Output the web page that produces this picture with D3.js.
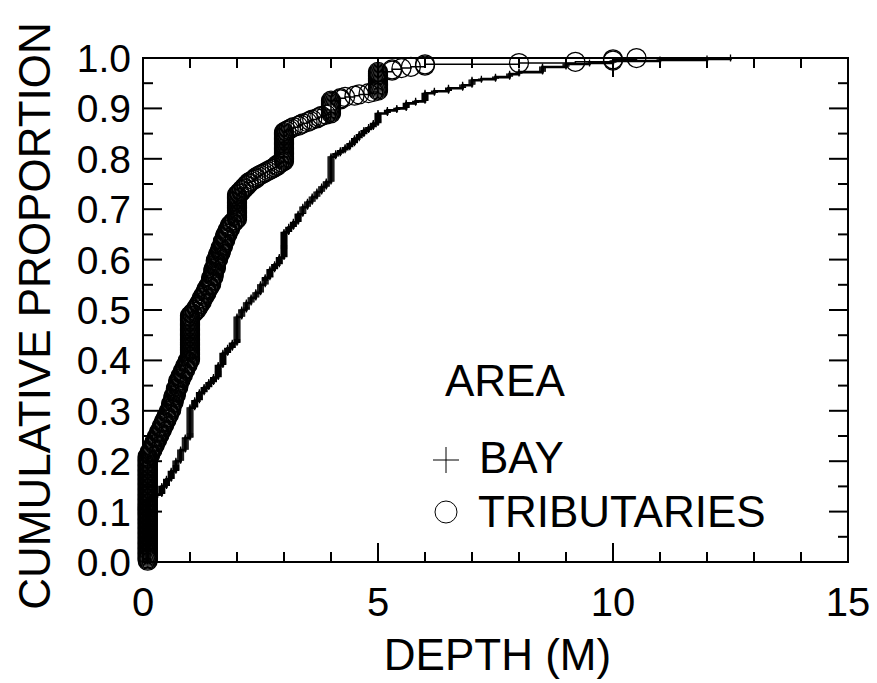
<!DOCTYPE html>
<html>
<head>
<meta charset="utf-8">
<script src="https://cdn.jsdelivr.net/npm/d3@7"></script>
<style>
  body { margin: 0; background: #fff; }
  svg { display: block; font-family: "Liberation Sans", Arial, sans-serif; }
</style>
</head>
<body>
<script>
// depth readings (m) and how many samples sit at each depth
var tribDepth = [0.1, 0.15, 0.2, 0.25, 0.3, 0.35, 0.4, 0.45, 0.5, 0.55,
                 0.6, 0.65, 0.7, 0.75, 0.8, 0.85, 0.9, 0.95, 1.0,
                 1.05, 1.1, 1.15, 1.2, 1.25, 1.3, 1.35, 1.4, 1.45, 1.5,
                 1.55, 1.6, 1.65, 1.7, 1.75, 1.8, 1.85, 1.9, 1.95, 2.0,
                 2.05, 2.1, 2.15, 2.2, 2.25, 2.3, 2.35, 2.4, 2.45, 2.5,
                 2.55, 2.6, 2.65, 2.7, 2.75, 2.8, 2.85, 2.9, 2.95, 3.0,
                 3.05, 3.1, 3.15, 3.2, 3.3, 3.35, 3.4, 3.5, 3.55, 3.6,
                 3.7, 3.75, 3.8, 3.9, 4.0,
                 4.2, 4.3, 4.5, 4.6, 4.8, 4.9, 5.0,
                 5.3, 5.5, 5.7, 6.0, 8.0, 9.2, 10.0, 10.5];
var tribCount = [84, 4, 4, 4, 4, 4, 4, 4, 4, 4,
                 6, 6, 6, 6, 4, 4, 4, 4, 36,
                 2, 2, 3, 3, 4, 3, 4, 3, 6, 7,
                 7, 5, 5, 5, 5, 4, 4, 2, 2, 20,
                 2, 2, 2, 2, 2, 1, 1, 2, 1, 1,
                 1, 1, 1, 1, 1, 1, 2, 1, 1, 24,
                 1, 1, 1, 1, 1, 1, 1, 1, 1, 1,
                 1, 1, 1, 1, 11,
                 2, 1, 1, 1, 1, 1, 16,
                 2, 1, 1, 2, 1, 1, 2, 1];

var bayDepth = [0.1, 0.2, 0.3, 0.4, 0.5, 0.6, 0.7, 0.8, 0.9, 1.0,
                1.1, 1.2, 1.3, 1.4, 1.5, 1.6, 1.7, 1.8, 1.9, 2.0,
                2.1, 2.2, 2.3, 2.4, 2.5, 2.6, 2.7, 2.8, 2.9, 3.0,
                3.1, 3.2, 3.3, 3.4, 3.5, 3.6, 3.7, 3.8, 3.9, 4.0,
                4.1, 4.2, 4.3, 4.4, 4.5, 4.6, 4.7, 4.8, 4.9, 5.0,
                5.2, 5.4, 5.6, 5.8, 6.0, 6.2, 6.5, 6.8, 7.0, 7.2,
                7.5, 7.8, 8.0, 8.5, 9.0, 9.5, 10.0, 11.0, 12.0, 12.5];
var bayCount = [62, 3, 2, 8, 7, 8, 10, 11, 12, 30,
                7, 8, 5, 5, 5, 12, 12, 5, 5, 26,
                7, 7, 5, 5, 8, 7, 8, 5, 7, 25,
                5, 5, 8, 7, 5, 5, 5, 5, 5, 25,
                3, 3, 3, 4, 5, 4, 4, 3, 4, 10,
                3, 2, 5, 2, 8, 2, 3, 3, 5, 1,
                2, 3, 2, 5, 3, 1, 2, 1, 1, 1];

var xTicks = [0, 5, 10, 15];
var xMinor = [1, 2, 3, 4, 6, 7, 8, 9, 11, 12, 13, 14];
var yTicks = [0, 0.1, 0.2, 0.3, 0.4, 0.5, 0.6, 0.7, 0.8, 0.9, 1.0];
var yMinor = [0.05, 0.15, 0.25, 0.35, 0.45, 0.55, 0.65, 0.75, 0.85, 0.95];

var width = 877, height = 683;
var plot = { left: 143, right: 848, top: 58, bottom: 562 };

var svg = d3.select("body")
  .append("svg")
    .attr("width", width)
    .attr("height", height);

var x = d3.scaleLinear().domain([0, 15]).range([plot.left, plot.right]);
var y = d3.scaleLinear().domain([0, 1]).range([plot.bottom, plot.top]);

// turn depth/count lists into sorted cumulative points
function ecdf(depths, counts) {
  var n = d3.sum(counts), pts = [], k = 0;
  depths.forEach(function(d, i) {
    for (var j = 0; j < counts[i]; j++) {
      k++;
      pts.push({ depth: d, prop: k / n });
    }
  });
  return pts;
}
var bay = ecdf(bayDepth, bayCount);
var trib = ecdf(tribDepth, tribCount);

var step = d3.line()
  .x(function(d) { return x(d.depth); })
  .y(function(d) { return y(d.prop); })
  .curve(d3.curveStepAfter);

// bay: step line with small crosses
svg.append("path")
  .datum(bay)
  .attr("d", step)
  .attr("fill", "none")
  .attr("stroke", "#000")
  .attr("stroke-width", 2.6);
svg.append("g")
  .selectAll("path")
  .data(bay)
  .enter()
  .append("path")
    .attr("d", function(d) {
      var cx = x(d.depth), cy = y(d.prop), s = 3.5;
      return "M" + (cx - s) + "," + cy + "H" + (cx + s) + "M" + cx + "," + (cy - s) + "V" + (cy + s);
    })
    .attr("stroke", "#000")
    .attr("stroke-width", 1.3);

// tributaries: step line with open circles
svg.append("path")
  .datum(trib)
  .attr("d", step)
  .attr("fill", "none")
  .attr("stroke", "#000")
  .attr("stroke-width", 1.5);
svg.append("g")
  .selectAll("circle")
  .data(trib)
  .enter()
  .append("circle")
    .attr("cx", function(d) { return x(d.depth); })
    .attr("cy", function(d) { return y(d.prop); })
    .attr("r", 9.5)
    .attr("fill", "none")
    .attr("stroke", "#000")
    .attr("stroke-width", 1.25);

// frame and inward ticks on all four sides
svg.append("rect")
  .attr("x", plot.left).attr("y", plot.top)
  .attr("width", plot.right - plot.left).attr("height", plot.bottom - plot.top)
  .attr("fill", "none")
  .attr("stroke", "#000")
  .attr("stroke-width", 2);

function tickLen(major) { return major ? 19 : 10; }
var xt = xTicks.map(function(v) { return { v: v, major: true }; })
  .concat(xMinor.map(function(v) { return { v: v, major: false }; }));
var yt = yTicks.map(function(v) { return { v: v, major: true }; })
  .concat(yMinor.map(function(v) { return { v: v, major: false }; }));

var ticks = svg.append("g").attr("stroke", "#000").attr("stroke-width", 2);
xt.forEach(function(t) {
  ticks.append("line").attr("x1", x(t.v)).attr("x2", x(t.v))
    .attr("y1", plot.bottom).attr("y2", plot.bottom - tickLen(t.major));
  ticks.append("line").attr("x1", x(t.v)).attr("x2", x(t.v))
    .attr("y1", plot.top).attr("y2", plot.top + tickLen(t.major));
});
yt.forEach(function(t) {
  ticks.append("line").attr("y1", y(t.v)).attr("y2", y(t.v))
    .attr("x1", plot.left).attr("x2", plot.left + tickLen(t.major));
  ticks.append("line").attr("y1", y(t.v)).attr("y2", y(t.v))
    .attr("x1", plot.right).attr("x2", plot.right - tickLen(t.major));
});

// tick labels
svg.append("g")
  .selectAll("text")
  .data(xTicks)
  .enter()
  .append("text")
    .attr("x", function(d) { return x(d); })
    .attr("y", 616)
    .attr("text-anchor", "middle")
    .style("font-size", "40px")
    .text(function(d) { return d; });

svg.append("g")
  .selectAll("text")
  .data(yTicks)
  .enter()
  .append("text")
    .attr("x", 131)
    .attr("y", function(d) { return y(d) + 14; })
    .attr("text-anchor", "end")
    .style("font-size", "39px")
    .text(function(d) { return d.toFixed(1); });

// axis titles
svg.append("text")
  .attr("x", (plot.left + plot.right) / 2 + 2)
  .attr("y", 670)
  .attr("text-anchor", "middle")
  .style("font-size", "44px")
  .text("DEPTH (M)");

svg.append("text")
  .attr("transform", "translate(50,316) rotate(-90)")
  .attr("text-anchor", "middle")
  .style("font-size", "44px")
  .text("CUMULATIVE PROPORTION");

// legend
var lg = svg.append("g");
lg.append("text").attr("x", 445).attr("y", 396).style("font-size", "44px").text("AREA");
lg.append("path")
  .attr("d", "M433,460H459M446,447V473")
  .attr("stroke", "#000").attr("stroke-width", 1);
lg.append("text").attr("x", 479).attr("y", 473).style("font-size", "44px").text("BAY");
lg.append("circle")
  .attr("cx", 446).attr("cy", 512).attr("r", 11)
  .attr("fill", "none").attr("stroke", "#000").attr("stroke-width", 1);
lg.append("text").attr("x", 478).attr("y", 527).style("font-size", "44px").text("TRIBUTARIES");
</script>
</body>
</html>
